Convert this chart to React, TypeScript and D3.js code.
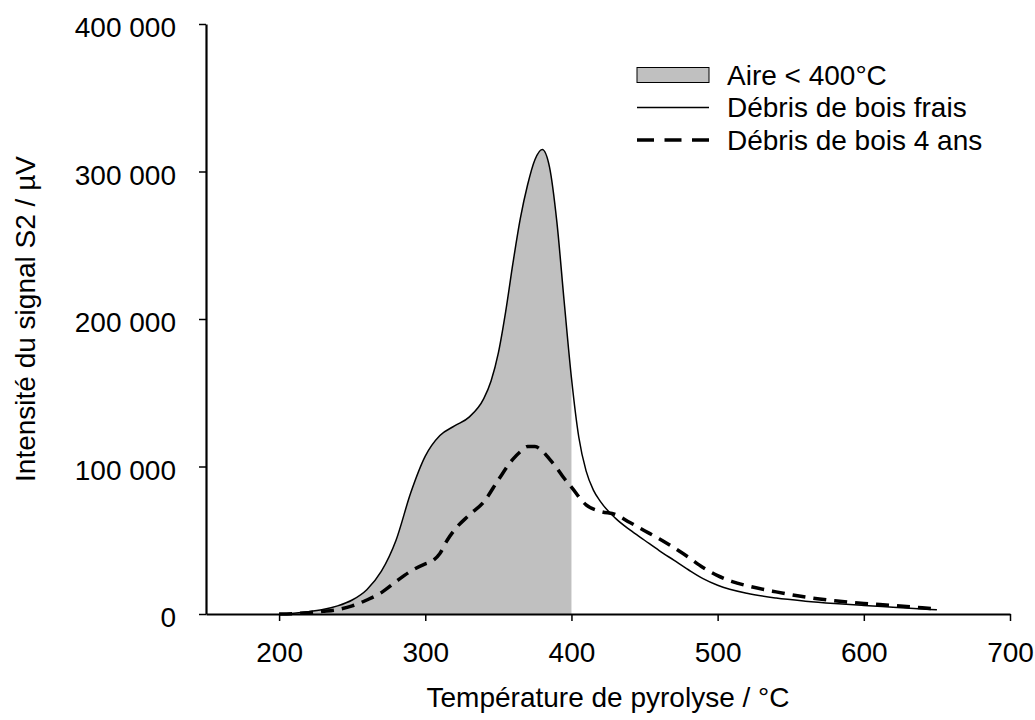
import React, { useEffect, useRef } from 'react';
import * as d3 from 'd3';

// Débris de bois frais
const freshTemps = [200, 210, 220, 230, 240, 250, 260, 270, 280, 290, 300, 310, 320, 330, 340, 345, 350, 355, 360, 365, 370, 375, 380, 385, 390, 395, 400, 405, 410, 415, 420, 430, 440, 450, 460, 470, 480, 490, 500, 520, 540, 560, 580, 600, 620, 640, 650];
const freshValues = [0, 500, 1500, 3000, 5500, 9500, 16500, 29000, 50000, 82000, 107000, 121000, 127500, 133500, 146000, 158000, 177000, 205000, 238000, 268000, 291000, 308000, 315000, 303000, 266000, 212000, 160000, 120000, 97000, 84000, 76000, 65000, 57000, 50000, 43000, 36500, 30000, 24000, 19500, 14000, 10800, 8700, 7100, 5800, 4600, 3400, 2800];

// Débris de bois 4 ans
const agedTemps = [200, 210, 220, 230, 240, 250, 260, 270, 280, 290, 300, 305, 310, 315, 320, 330, 340, 350, 360, 365, 370, 375, 380, 385, 390, 395, 400, 410, 420, 430, 440, 450, 460, 470, 480, 490, 500, 510, 520, 540, 560, 580, 600, 620, 640, 650];
const agedValues = [0, 300, 900, 1800, 3000, 5500, 9500, 14500, 22000, 29000, 34000, 36000, 41000, 50000, 57000, 67000, 76000, 91000, 105000, 110000, 113500, 113500, 110500, 105000, 99000, 92000, 86000, 74000, 69500, 67500, 62000, 56500, 51000, 45000, 38500, 31500, 26000, 22000, 19200, 15000, 11500, 9000, 7200, 5800, 4200, 3300];

const xTicks = [200, 300, 400, 500, 600, 700];
const yTicks = [0, 100000, 200000, 300000, 400000];
const areaLimit = 400;
const legendLabels = ['Aire < 400°C', 'Débris de bois frais', 'Débris de bois 4 ans'];

const FONT = '"Liberation Sans", Arial, sans-serif';
const FS = 28;

export default function App() {
  const ref = useRef<SVGSVGElement>(null);

  useEffect(() => {
    const svg = d3.select(ref.current);
    svg.selectAll('*').remove();

    const x = d3.scaleLinear().domain([150, 700]).range([206, 1010]);
    const y = d3.scaleLinear().domain([0, 400000]).range([614, 24]);

    const fmt = d3.formatLocale({ decimal: ',', thousands: '\u00a0', grouping: [3], currency: ['', ''] }).format(',d');

    const fresh = freshTemps.map((t, i) => ({ t, v: freshValues[i] }));
    const aged = agedTemps.map((t, i) => ({ t, v: agedValues[i] }));

    svg.append('clipPath').attr('id', 'clip400')
      .append('rect')
      .attr('x', x(150)).attr('y', 0)
      .attr('width', x(areaLimit) - x(150)).attr('height', y(0));

    const area = d3.area<{ t: number; v: number }>()
      .x(d => x(d.t)).y0(y(0)).y1(d => y(d.v))
      .curve(d3.curveMonotoneX);

    svg.append('path')
      .datum(fresh)
      .attr('d', area)
      .attr('fill', '#c0c0c0')
      .attr('clip-path', 'url(#clip400)');

    const line = d3.line<{ t: number; v: number }>()
      .x(d => x(d.t)).y(d => y(d.v))
      .curve(d3.curveMonotoneX);

    svg.append('path')
      .datum(fresh)
      .attr('d', line)
      .attr('fill', 'none')
      .attr('stroke', '#000')
      .attr('stroke-width', 1.5);

    svg.append('path')
      .datum(aged)
      .attr('d', line)
      .attr('fill', 'none')
      .attr('stroke', '#000')
      .attr('stroke-width', 3.5)
      .attr('stroke-dasharray', '13,8');

    const yAxis = svg.append('g')
      .attr('transform', 'translate(206,0)')
      .call(d3.axisLeft(y).tickValues(yTicks).tickSize(7).tickSizeOuter(0).tickPadding(23).tickFormat(d => fmt(d as number)));

    const xAxis = svg.append('g')
      .attr('transform', 'translate(0,614)')
      .call(d3.axisBottom(x).tickValues(xTicks).tickSize(7).tickSizeOuter(0).tickPadding(21));

    [xAxis, yAxis].forEach(g => {
      g.select('.domain').attr('stroke-width', 2.2);
      g.selectAll('.tick line').attr('stroke-width', 1.5);
      g.selectAll('text')
        .attr('font-family', FONT)
        .attr('font-size', FS)
        .attr('fill', '#000');
    });
    yAxis.selectAll('text').attr('dy', '0.45em');

    svg.append('text')
      .attr('x', 608).attr('y', 707)
      .attr('text-anchor', 'middle')
      .attr('font-family', FONT).attr('font-size', FS)
      .text('Température de pyrolyse / °C');

    svg.append('text')
      .attr('transform', 'translate(35,319) rotate(-90)')
      .attr('text-anchor', 'middle')
      .attr('font-family', FONT).attr('font-size', FS)
      .text('Intensité du signal S2 / µV');

    // legend
    const rows = [75, 107.5, 140];
    const legend = svg.append('g');
    legend.append('rect')
      .attr('x', 637).attr('y', rows[0] - 7.5)
      .attr('width', 72).attr('height', 15)
      .attr('fill', '#c0c0c0').attr('stroke', '#000').attr('stroke-width', 1);
    legend.append('line')
      .attr('x1', 637).attr('x2', 709).attr('y1', rows[1]).attr('y2', rows[1])
      .attr('stroke', '#000').attr('stroke-width', 1.5);
    legend.append('line')
      .attr('x1', 637).attr('x2', 709).attr('y1', rows[2]).attr('y2', rows[2])
      .attr('stroke', '#000').attr('stroke-width', 3.5)
      .attr('stroke-dasharray', '17,10.5');
    legend.selectAll('text.lab')
      .data(legendLabels)
      .enter()
      .append('text')
      .attr('class', 'lab')
      .attr('x', 727)
      .attr('y', (d, i) => rows[i])
      .attr('dy', '0.35em')
      .attr('font-family', FONT).attr('font-size', FS)
      .text(d => d);
  }, []);

  return (
    <svg ref={ref} width={1035} height={720} style={{ position: 'absolute', left: 0, top: 0, background: '#fff' }} />
  );
}
